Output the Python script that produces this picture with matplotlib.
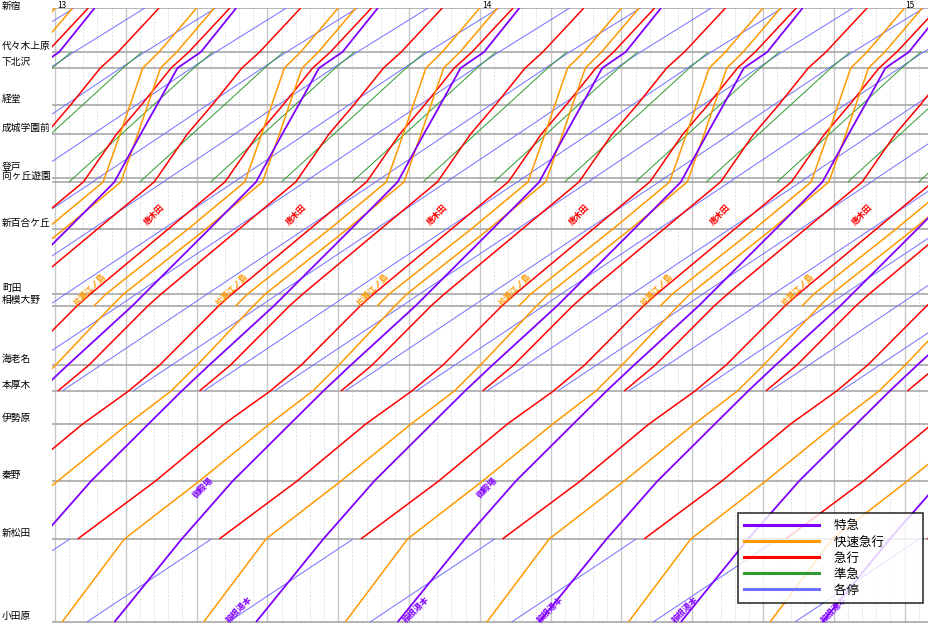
import matplotlib
matplotlib.use("Agg")
import matplotlib.pyplot as plt
from matplotlib.lines import Line2D

plt.rcParams['font.family'] = ['Noto Sans CJK JP', 'DejaVu Sans']

# stations from Odawara (bottom) to Shinjuku (top); positions on diagram
stations = ["小田原", "新松田", "秦野", "伊勢原", "本厚木", "海老名", "相模大野", "町田",
            "新百合ケ丘", "向ヶ丘遊園", "登戸", "成城学園前", "経堂", "下北沢", "代々木上原", "新宿"]
station_pos = [622, 539, 481, 424, 391, 365, 306, 294, 229, 182, 178, 134, 105, 68, 52, 8]

# minutes for each section (going up) per service type
min_ltd = [9.5, 7.2, 8.1, 4.7, 3.9, 9.1, 1.7, 9.2, 6.6, 0.3, 3.4, 2.3, 2.9, 3.3, 5.0]
min_rapid = [8.8, 10.6, 9.9, 6.1, 3.7, 7.9, 1.7, 11.6, 8.0, 0.2, 2.2, 1.4, 1.8, 2.3, 5.3]
min_exp = [15.2, 11.0, 9.7, 6.5, 4.4, 8.3, 1.9, 11.0, 8.0, 0.4, 4.3, 3.5, 4.2, 2.5, 5.8]
min_semi = [15.2, 11.0, 9.7, 6.5, 4.4, 8.3, 1.9, 11.0, 8.0, 0.6, 6.8, 4.5, 5.7, 2.7, 6.0]
min_local = [17.6, 12.3, 12.1, 7.0, 5.5, 12.5, 2.5, 13.8, 10.0, 0.8, 9.3, 6.1, 7.8, 3.4, 10.0]

# trips: virtual Odawara time (min after 13:00)
ltd_t0 = [-71.6, -51.6, -31.6, -11.6, 8.4, 28.4, 48.4, 68.4, 88.4, 108.4]
rapid_od_t0 = [-79, -59, -39, -19, 1, 21, 41, 61, 81, 101]
rapid_eno_t0 = [-81.5, -61.5, -41.5, -21.5, -1.5, 18.5, 38.5, 58.5, 78.5, 98.5]
exp_sm_t0 = [-112, -92, -72, -52, -32, -12, 8, 28, 48, 68, 88, 108]
exp_ha_t0 = [-102, -82, -62, -42, -22, -2, 18, 38, 58, 78, 98]
semi_t0 = [-104, -94, -84, -74, -64, -54, -44, -34, -24, -14, -4, 6, 16, 26, 36, 46]
local_od_t0 = [-15.5, 4.5, 24.5, 44.5, 64.5, 84.5, 104.5]
local_up_t0 = [-128, -118, -108, -98, -88, -78, -68, -58, -48, -38, -28, -18, -8, 2, 12, 22, 32, 42, 52, 62]

names = ["特急", "快速急行", "急行", "準急", "各停"]
colors = ["#7f00ff", "#ff9900", "#ff0000", "#2e9b2e", "#7070ff"]
widths = [1.3, 1.1, 1.1, 0.7, 0.7]

PXMIN = 7.08
fig = plt.figure(figsize=(9.29, 6.24), dpi=100)
ax = fig.add_axes([52/929, 1-623/624, 1-52/929, (623-8)/624])
ax.set_xlim(-3/PXMIN, (929-55)/PXMIN)
ax.set_ylim(623, 8)
ax.axis('off')

for m in range(0, 124, 2):
    if m % 10 == 0:
        ax.axvline(m, color='#c8c8c8', lw=1.0, zorder=0)
    else:
        ax.axvline(m, color='#d8d8d8', lw=0.6, ls=(0, (2, 2)), zorder=0)
for p in station_pos:
    ax.axhline(p, color='#a8a8a8', lw=1.2, zorder=0)

def draw(t0s, mins, s0, s1, ci):
    for t0 in t0s:
        ts = [t0]
        for m in mins:
            ts.append(ts[-1] + m)
        ax.plot(ts[s0:s1+1], station_pos[s0:s1+1], color=colors[ci], lw=widths[ci],
                solid_capstyle='butt', zorder=2 + (4 - ci) * 0.1)

draw(local_od_t0, min_local, 0, 1, 4)
draw(local_up_t0, min_local, 4, 15, 4)
draw(semi_t0, min_semi, 9, 14, 3)
draw(exp_sm_t0, min_exp, 1, 15, 2)
draw(exp_ha_t0, min_exp, 4, 15, 2)
draw(rapid_od_t0, min_rapid, 0, 15, 1)
draw(rapid_eno_t0, min_rapid, 6, 15, 1)
draw(ltd_t0, min_ltd, 0, 15, 0)

for s, p in zip(stations, station_pos):
    if s == "新宿":
        continue
    yy = p - 1
    if s == "登戸":
        yy = p - 6
    fig.text(2/929, 1-yy/624, s, fontsize=7, va='bottom', ha='left')
fig.text(2/929, 1-1/624, "新宿", fontsize=7, va='top', ha='left')
for h, x in [("13", 57), ("14", 482), ("15", 905)]:
    fig.text(x/929, 1-1/624, h, fontsize=6, va='top', ha='left')

lab_specs = [
    ("唐木田", "#ff0000", [14, 34, 54, 74, 94, 114], 215),
    ("片瀬江ノ島", "#ff9900", [5, 25, 45, 65, 85, 105], 290),
    ("箱根湯本", "#7f00ff", [26, 51, 70, 89, 110], 610),
    ("御殿場", "#7f00ff", [21, 61], 488),
]
for txt, c, xs, y in lab_specs:
    for x in xs:
        ax.text(x, y, txt, color=c, fontsize=6, rotation=45, ha='center', va='center',
                fontweight='bold', zorder=5)

handles = [Line2D([0], [0], color=c, lw=2.2) for c in colors]
leg = fig.legend(handles, names, loc='upper left', bbox_to_anchor=(738/929, 1-513/624),
                 fontsize=9, frameon=True, fancybox=False, edgecolor='black',
                 handlelength=6, handletextpad=1.2, borderpad=0.5, labelspacing=0.25,
                 borderaxespad=0)
leg.get_frame().set_linewidth(1.2)
for t in leg.get_texts():
    t.set_text(t.get_text() + "            ")

fig.savefig("out.png", dpi=100)
